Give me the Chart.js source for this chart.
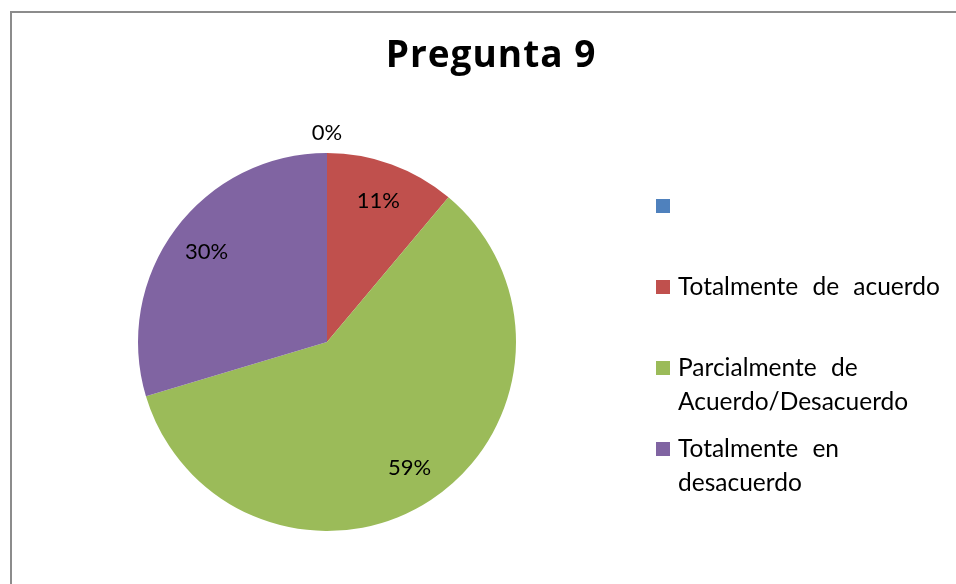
<!DOCTYPE html>
<html>
<head>
<meta charset="utf-8">
<script src="https://cdn.jsdelivr.net/npm/chart.js@4/dist/chart.umd.min.js"></script>
<style>
  html, body { margin: 0; padding: 0; background: #ffffff; }
  #wrap { width: 956px; height: 584px; position: relative; }
</style>
</head>
<body>
<div id="wrap"><canvas id="c" width="956" height="584"></canvas></div>
<script>
const chartTitle = 'Pregunta 9';
const categories = [
  [''],
  ['Totalmente de acuerdo'],
  ['Parcialmente de', 'Acuerdo/Desacuerdo'],
  ['Totalmente en', 'desacuerdo']
];
const counts = [0, 3, 16, 8];
const percentLabels = ['0%', '11%', '59%', '30%'];
const sliceColors = ['#4F81BD', '#C0504D', '#9BBB59', '#8064A2'];

const FONT = 'Lato, "Liberation Sans", sans-serif';
const TITLE_FONT = '"Open Sans", Lato, sans-serif';

const decorPlugin = {
  id: 'decor',
  beforeDraw(chart) {
    const ctx = chart.ctx;
    ctx.save();
    ctx.fillStyle = '#ffffff';
    ctx.fillRect(0, 0, chart.width, chart.height);
    ctx.strokeStyle = '#8c8c8c';
    ctx.lineWidth = 2;
    ctx.beginPath();
    ctx.moveTo(11, chart.height + 5);
    ctx.lineTo(11, 12);
    ctx.lineTo(chart.width + 5, 12);
    ctx.stroke();
    ctx.restore();
  },
  afterDraw(chart) {
    const ctx = chart.ctx;
    ctx.save();
    // Title
    ctx.fillStyle = '#000000';
    ctx.font = 'bold 37px ' + TITLE_FONT;
    try { ctx.letterSpacing = '1px'; } catch (e) {}
    ctx.textAlign = 'center';
    ctx.textBaseline = 'alphabetic';
    ctx.fillText(chartTitle, 491, 67);
    try { ctx.letterSpacing = '0px'; } catch (e) {}

    // Data labels
    const meta = chart.getDatasetMeta(0);
    ctx.font = '22px ' + FONT;
    ctx.textAlign = 'center';
    ctx.textBaseline = 'middle';
    meta.data.forEach((arc, i) => {
      const p = arc.getProps(['x', 'y', 'startAngle', 'endAngle', 'outerRadius'], true);
      const mid = (p.startAngle + p.endAngle) / 2;
      const r = counts[i] === 0 ? p.outerRadius + 20 : p.outerRadius * 0.795;
      const x = p.x + Math.cos(mid) * r;
      const y = p.y + Math.sin(mid) * r;
      ctx.fillText(percentLabels[i], x, y);
    });

    // Legend
    ctx.font = '24.5px ' + FONT;
    ctx.textAlign = 'left';
    ctx.textBaseline = 'middle';
    try { ctx.wordSpacing = '8px'; } catch (e) {}
    categories.forEach((lines, i) => {
      const cy = 206 + i * 81;
      ctx.fillStyle = sliceColors[i];
      ctx.fillRect(656, cy - 7, 14, 14);
      ctx.fillStyle = '#000000';
      lines.forEach((ln, j) => {
        ctx.fillText(ln, 678, cy + j * 34);
      });
    });
    ctx.restore();
  }
};

new Chart(document.getElementById('c'), {
  type: 'pie',
  data: {
    labels: categories,
    datasets: [{
      data: counts,
      backgroundColor: sliceColors,
      borderWidth: 0
    }]
  },
  options: {
    responsive: false,
    animation: false,
    layout: { padding: { left: 138, right: 440, top: 153, bottom: 53 } },
    plugins: {
      legend: { display: false },
      title: { display: false },
      tooltip: { enabled: false }
    }
  },
  plugins: [decorPlugin]
});
</script>
</body>
</html>
